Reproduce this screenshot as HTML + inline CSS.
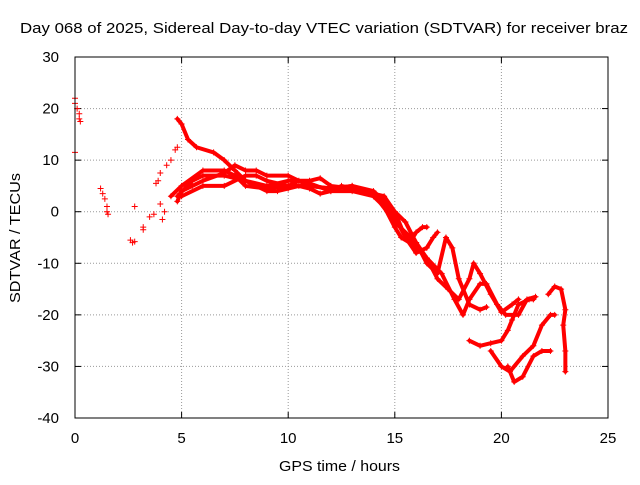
<!DOCTYPE html>
<html><head><meta charset="utf-8"><style>
body{margin:0;background:#fff}
svg text{font-family:"Liberation Sans",sans-serif;font-size:15px;fill:#000}
</style></head><body>
<svg id="c" width="640" height="480">
<text x="20" y="33" textLength="608" lengthAdjust="spacingAndGlyphs">Day 068 of 2025, Sidereal Day-to-day VTEC variation (SDTVAR) for receiver braz</text>
<text x="279" y="471" textLength="121" lengthAdjust="spacingAndGlyphs">GPS time / hours</text>
<text transform="translate(20,303) rotate(-90)" textLength="130" lengthAdjust="spacingAndGlyphs">SDTVAR / TECUs</text>
<g id="grid"></g><g id="ticks"></g><g id="marks"></g>
<rect x="75" y="57" width="533" height="361" fill="none" stroke="#000"/>
</svg>
<script>
const xTicks=[0,5,10,15,20,25];
const yTicks=[30,20,10,0,-10,-20,-30,-40];
const scatterT=[0,0,0.1,0.2,0.2,0.25,0,1.2,1.3,1.4,1.5,1.5,1.55,2.6,2.7,2.8,2.8,3.2,3.2,3.5,3.7,3.8,3.9,4,4,4.1,4.2,4.3,4.5,4.7,4.8];
const scatterV=[22,21,20,19,18,17.5,11.5,4.5,3.5,2.5,1,0,-0.5,-5.5,-6,-5.8,1,-3,-3.5,-1,-0.5,5.5,6,7.5,1.5,-1.5,0,9,10,12,12.5];
const trackT=[
[4.8,5,5.3,5.7,6.5,7,7.5,8,8.5,9,9.5,10,10.5,11,11.5,12,12.5,13,13.5,14,14.5,15,15.3,15.7,16,16.3,16.5],
[4.8,5.5,6,7,8,9,10,11,11.5,12,13,14,14.5,15,15.5,16,16.5,16.8,17],
[4.8,5,5.5,6,7,7.5,8,8.5,9,10,11,12,13,14,15,15.5,16,16.5,17,17.4,17.7,18,18.5,19,19.3],
[5,6,7,8,8.5,9,10,10.5,11,12,13,14,15,15.5,16,16.5,17,17.5,18,18.5,18.7,19,19.5,20,20.5,20.8],
[4.5,5,6,7,7.5,8,9,10,11,12,13,14,15,16,16.5,17.2,17.8,18.2,18.5,19,19.3,19.8,20.2,20.8,21.2,21.6],
[18.5,19,19.5,20,20.3,20.5,20.8,21.3,21.5],
[19.5,20,20.4,21,21.5,21.9,22.3,22.5],
[20.3,20.6,21,21.5,21.9,22.3],
[22.2,22.5,22.8,23,22.9,23,23]];
const trackV=[
[18,17,14,12.5,11.5,10,8,6,5,4,4,4.5,5,4.5,3.5,4,5,4.5,4,3,1,-3,-5,-6,-4,-3,-3],
[3,6,7,7,6,5,6,6,6.5,5,4.5,3.5,3,0,-5,-8,-7,-5,-4],
[2,4,5,6,7.5,9,8,8,7,7,5,4.5,5,4,0,-2,-6,-10,-12,-5,-7,-13,-18,-19,-18.5],
[3,5,5,7,7,6,5,6,5.5,4,4,3,-1,-5,-7,-9,-13,-15,-17,-13,-10,-12,-16,-19.5,-18,-17],
[3,5,8,8,7,5,4.5,5,5,4.5,5,3.5,-2,-6,-9,-12,-17,-20,-17,-14,-14,-18,-20,-20,-17,-16.5],
[-25,-26,-25.5,-25,-23,-21,-18,-17,-17],
[-27,-30,-31,-28,-26,-22,-20,-20],
[-30,-33,-32,-28,-27,-27],
[-16,-14.5,-15,-19,-22,-27,-31]];
const X=t=>75+t*533/25, Y=v=>57+(30-v)*361/70;
const NS="http://www.w3.org/2000/svg";
const grid=document.getElementById('grid'),ticks=document.getElementById('ticks'),marks=document.getElementById('marks');
function mk(tag,at,parent){const e=document.createElementNS(NS,tag);for(const k in at)e.setAttribute(k,at[k]);parent.appendChild(e);return e;}
xTicks.forEach(t=>{const x=X(t);
 if(t>0&&t<25){const g=mk('line',{x1:x,x2:x,y1:57,y2:418,stroke:'#999','stroke-dasharray':'1,2'},grid);
 
 }
 mk('line',{x1:x,x2:x,y1:418,y2:412,stroke:'#000'},ticks);mk('line',{x1:x,x2:x,y1:57,y2:63,stroke:'#000'},ticks);
 const l=mk('text',{x:x,y:443,'text-anchor':'middle'},ticks);l.textContent=t;
 
 });
yTicks.forEach(v=>{const y=Y(v);
 if(v<30&&v>-40){const g=mk('line',{x1:75,x2:608,y1:y,y2:y,stroke:'#999','stroke-dasharray':'1,2'},grid);
 
 }
 mk('line',{x1:75,x2:81,y1:y,y2:y,stroke:'#000'},ticks);mk('line',{x1:608,x2:602,y1:y,y2:y,stroke:'#000'},ticks);
 const l=mk('text',{x:59,y:y+5,'text-anchor':'end'},ticks);l.textContent=v;
 
 });
function plus(t,v){const x=X(t),y=Y(v);
 const p=mk('path',{d:`M${x-3} ${y}h6M${x} ${y-3}v6`,stroke:'#f00','stroke-width':1},marks);
 
 }
scatterT.forEach((t,i)=>plus(t,scatterV[i]));
trackT.forEach((ts,k)=>{const pts=ts.map((t,i)=>X(t)+','+Y(trackV[k][i])).join(' ');
 const pl=mk('polyline',{points:pts,fill:'none',stroke:'#f00','stroke-width':4,'stroke-linejoin':'round','stroke-linecap':'round'},marks);
 
 
 ts.forEach((t,i)=>plus(t,trackV[k][i]));});
</script>
</body></html>
